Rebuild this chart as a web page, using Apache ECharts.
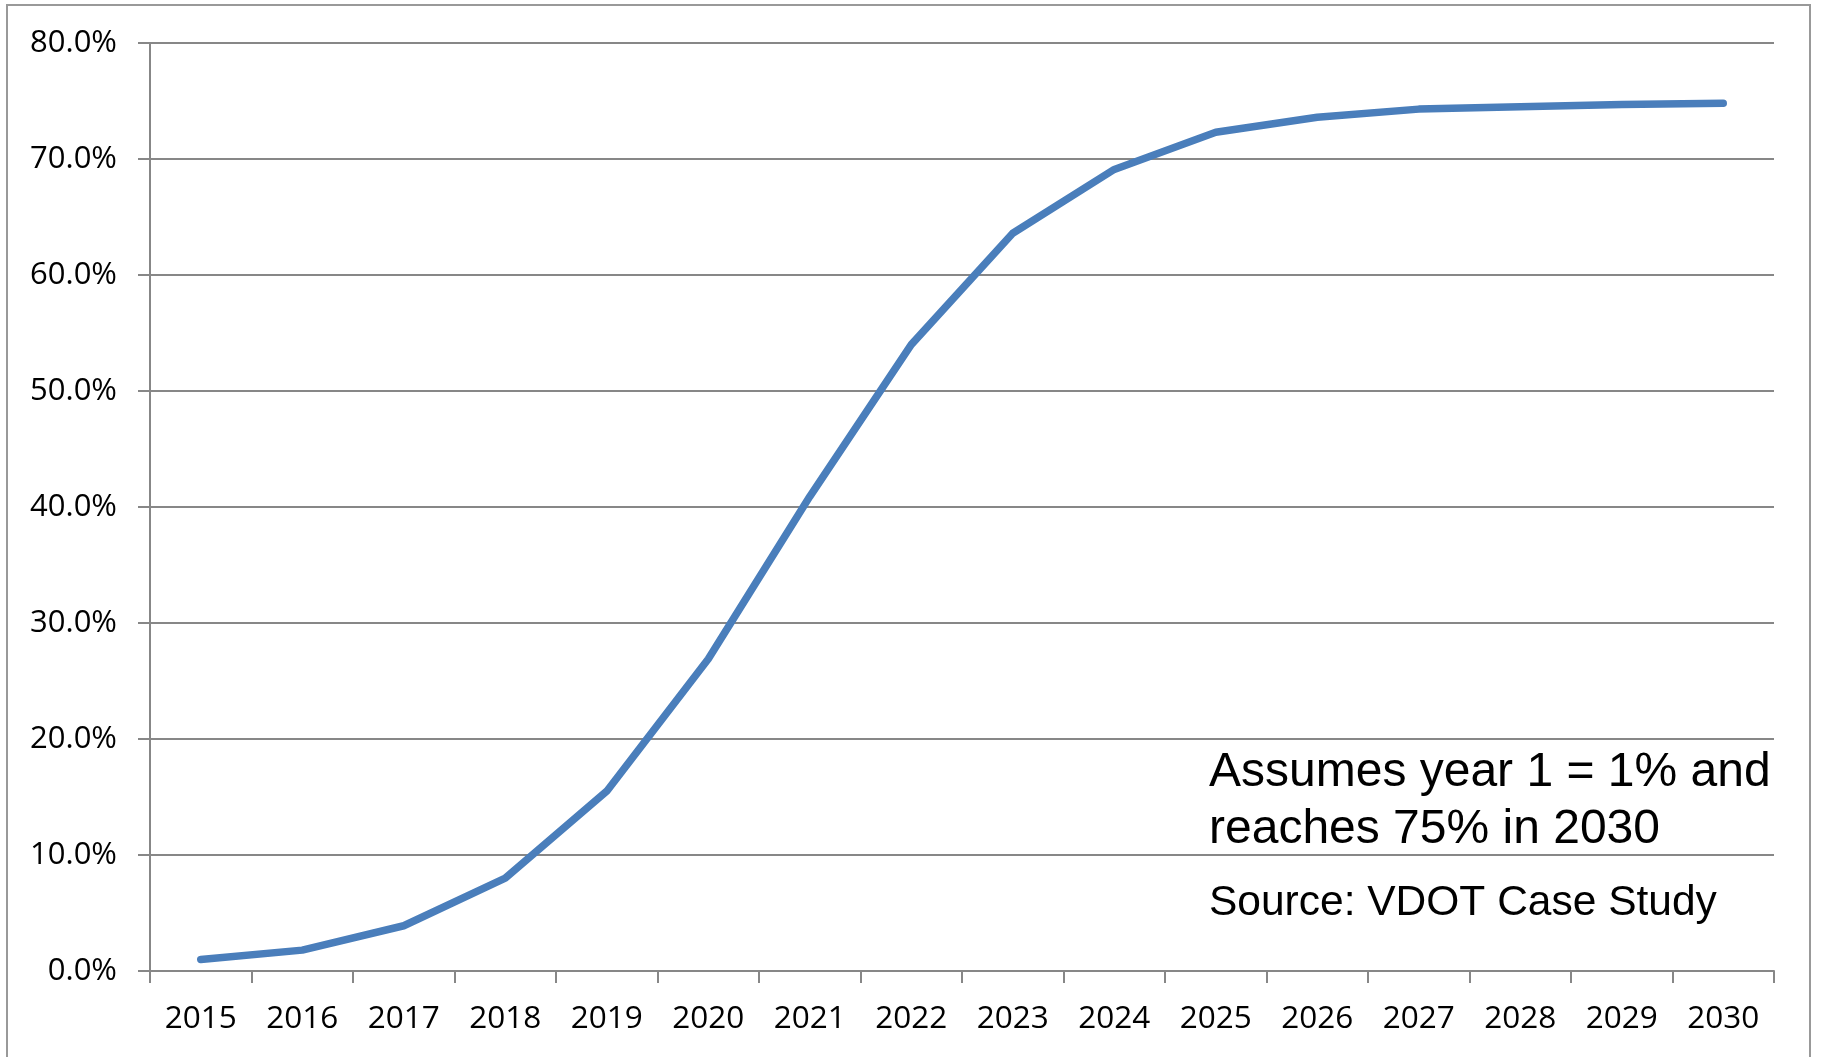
<!DOCTYPE html>
<html>
<head>
<meta charset="utf-8">
<script src="https://cdn.jsdelivr.net/npm/echarts@6/dist/echarts.min.js"></script>
<style>
  html, body { margin: 0; padding: 0; background: #fff; }
  #chart { width: 1823px; height: 1057px; }
</style>
</head>
<body>
<div id="chart"></div>
<script>
// years on the x axis
const years = ["2015", "2016", "2017", "2018", "2019", "2020", "2021", "2022",
  "2023", "2024", "2025", "2026", "2027", "2028", "2029", "2030"];
// adoption share, percent
const adoption = [1.0, 1.8, 3.9, 8.0, 15.5, 26.9, 40.9, 54.0,
  63.6, 69.1, 72.3, 73.6, 74.3, 74.5, 74.7, 74.8];
const yTicks = [0, 10, 20, 30, 40, 50, 60, 70, 80];
const noteLines = ["Assumes year 1 = 1% and", "reaches 75% in 2030"];
const sourceNote = "Source: VDOT Case Study";

const myChart = echarts.init(document.getElementById("chart"));

const gray = "#878787";

const option = {
  animation: false,
  grid: {
    left: 150,
    right: 49,
    top: 43,
    bottom: 86
  },
  xAxis: {
    type: "category",
    data: years,
    boundaryGap: true,
    axisLine: { lineStyle: { color: gray, width: 2 } },
    axisTick: { show: true, length: 12, lineStyle: { color: gray, width: 2 } },
    axisLabel: {
      color: "#000",
      fontFamily: "Open Sans",
      fontSize: 31.5,
      margin: 32
    },
    splitLine: { show: false }
  },
  yAxis: {
    type: "value",
    min: yTicks[0],
    max: yTicks[yTicks.length - 1],
    interval: 10,
    axisLine: { show: true, lineStyle: { color: gray, width: 2 } },
    axisTick: { show: true, length: 12, lineStyle: { color: gray, width: 2 } },
    axisLabel: {
      color: "#000",
      fontFamily: "Open Sans",
      fontSize: 31,
      margin: 33,
      formatter: function (v) { return v.toFixed(1) + "%"; }
    },
    splitLine: { show: true, lineStyle: { color: gray, width: 2 } }
  },
  series: [
    {
      type: "line",
      data: adoption,
      symbol: "none",
      lineStyle: { color: "#4a7ebb", width: 7.5, cap: "round", join: "round" }
    }
  ],
  graphic: [
    {
      type: "rect",
      shape: { x: 7, y: 5, width: 1803, height: 1100 },
      style: { fill: "none", stroke: "#999", lineWidth: 2 },
      silent: true
    },
    {
      type: "text",
      left: 1209,
      top: 749,
      style: {
        text: noteLines[0],
        font: "48px 'Liberation Sans', Arial, sans-serif",
        fill: "#000"
      }
    },
    {
      type: "text",
      left: 1209,
      top: 806,
      style: {
        text: noteLines[1],
        font: "48px 'Liberation Sans', Arial, sans-serif",
        fill: "#000"
      }
    },
    {
      type: "text",
      left: 1209,
      top: 882,
      style: {
        text: sourceNote,
        font: "42.5px 'Liberation Sans', Arial, sans-serif",
        fill: "#000"
      }
    }
  ]
};

myChart.setOption(option);
</script>
</body>
</html>
